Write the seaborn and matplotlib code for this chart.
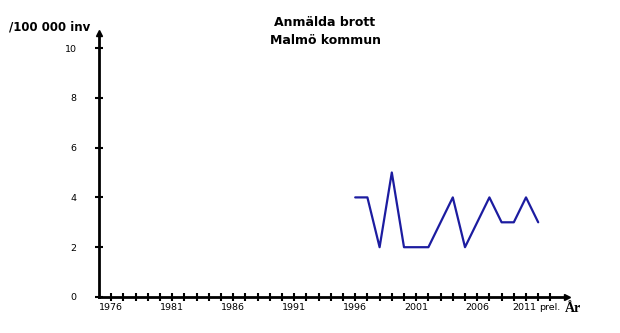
import matplotlib
matplotlib.use("Agg")
import matplotlib.pyplot as plt
import matplotlib.transforms as mtransforms
import seaborn as sns
import pandas as pd

years = [1996, 1997, 1998, 1999, 2000, 2001, 2002, 2003, 2004, 2005,
         2006, 2007, 2008, 2009, 2010, 2011]
values = [4, 4, 2, 5, 2, 2, 2, 3, 4, 2, 3, 4, 3, 3, 4, 3]
tick_years = list(range(1976, 2013))
label_years = [1976, 1981, 1986, 1991, 1996, 2001, 2006, 2011]
yticks = [0, 2, 4, 6, 8, 10]

sns.set_style("white")
plt.rcParams['font.family'] = ['DejaVu Sans']
plt.rcParams['text.color'] = 'black'

df = pd.DataFrame({"year": years, "value": values})

fig = plt.figure(figsize=(6.2, 3.33), dpi=100)
ax = fig.add_axes([99/620, 36/333, 468/620, 264/333])

sns.lineplot(data=df, x="year", y="value", ax=ax, color="#1c1ca0", linewidth=1.6)

ax.set_xlim(1975, 1975 + 468/12.2)
ax.set_ylim(0, 264/24.9)
for s in ["top", "right"]:
    ax.spines[s].set_visible(False)
for s in ["left", "bottom"]:
    ax.spines[s].set_linewidth(2)
    ax.spines[s].set_color("black")

ax.set_xticks(tick_years)
ax.set_xticklabels([str(y) if y in label_years else "" for y in tick_years])
ax.set_yticks(yticks)
ax.tick_params(axis="x", bottom=True, direction="inout", length=6, width=1.5,
               labelsize=6.8, pad=1, colors="black")
ax.tick_params(axis="y", left=True, direction="inout", length=6, width=1.5,
               labelsize=6.8, pad=13, colors="black")
ax.set_xlabel("")
ax.set_ylabel("")

# shift the 2011 label left to make room for "prel."
for lab in ax.get_xticklabels():
    if lab.get_text() == "2011":
        lab.set_transform(lab.get_transform() +
                          mtransforms.ScaledTranslation(-14/100, 0, fig.dpi_scale_trans))

# arrows at axis ends
ax.plot(1, 0, ">k", transform=ax.transAxes, clip_on=False, markersize=5)
ax.plot(0, 1, "^k", transform=ax.transAxes, clip_on=False, markersize=5)

fig.text(325/620, 1 - 22/333, "Anmälda brott", ha="center", va="center",
         fontsize=9, fontweight="bold")
fig.text(325/620, 1 - 40/333, "Malmö kommun", ha="center", va="center",
         fontsize=9, fontweight="bold")
fig.text(9/620, 1 - 27/333, "/100 000 inv", ha="left", va="center",
         fontsize=8.5, fontweight="bold")
fig.text(539/620, 1 - 307/333, "prel.", ha="left", va="center", fontsize=6.8)
fig.text(565/620, 1 - 308/333, "År", ha="left", va="center", fontsize=10,
         fontweight="bold", family=["Liberation Serif"])

fig.savefig("out.png", dpi=100, facecolor="white")
